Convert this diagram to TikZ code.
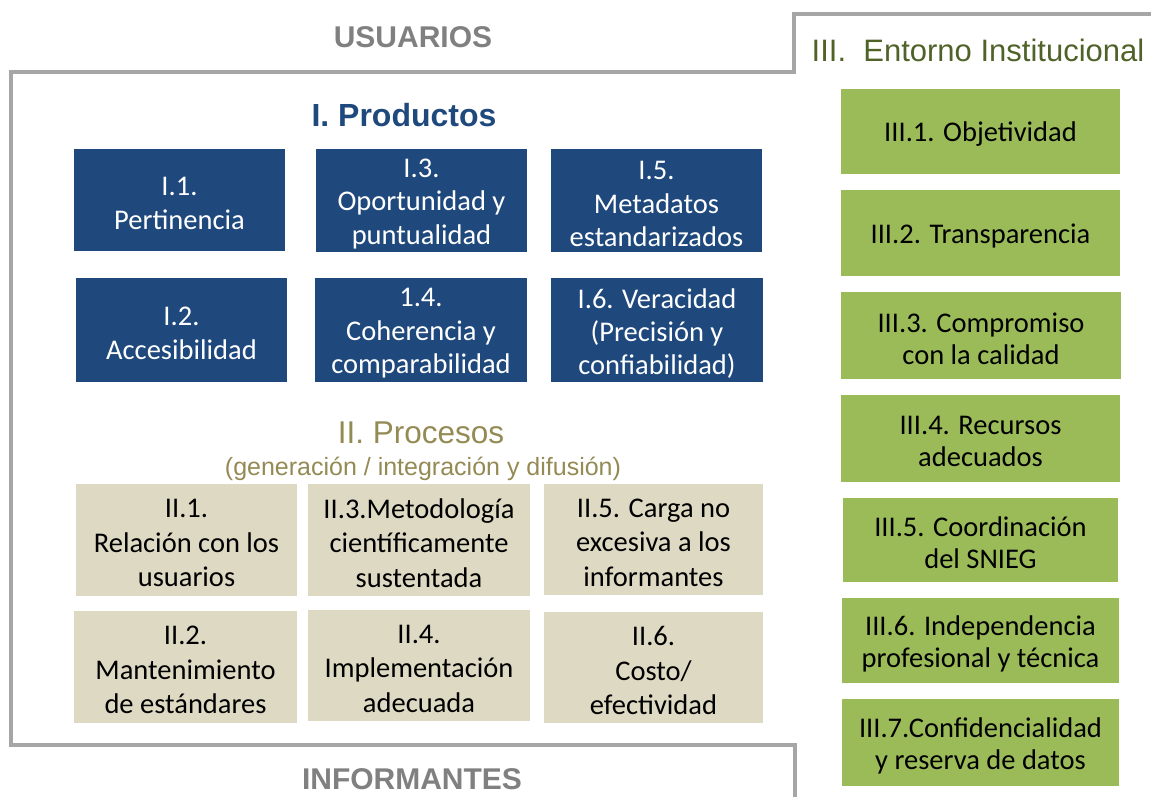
\documentclass[tikz,border=0pt]{standalone}
\usepackage{fontspec}
\setmainfont{Carlito}
\newfontfamily\arialf{Liberation Sans}
\definecolor{boxblue}{RGB}{31,73,125}
\definecolor{boxbeige}{RGB}{221,217,195}
\definecolor{boxgreen}{RGB}{155,187,89}
\definecolor{txtgreen}{RGB}{79,98,40}
\definecolor{txtolive}{RGB}{148,138,84}
\definecolor{txtgray}{RGB}{128,128,128}
\definecolor{linegray}{RGB}{166,166,166}
\tikzset{
  basebox/.style={inner sep=0pt, draw=none},
  bluebox/.style={basebox, fill=boxblue},
  beigebox/.style={basebox, fill=boxbeige},
  greenbox/.style={basebox, fill=boxgreen},
  basetxt/.style={inner sep=0pt, align=center},
  bluetxt/.style={basetxt, text=white, font=\fontsize{28.5}{33.4}\selectfont},
  beigetxt/.style={basetxt, text=black, font=\fontsize{28.5}{34.5}\selectfont},
  greentxt/.style={basetxt, text=black, font=\fontsize{28.5}{32}\selectfont},
  sz/.style 2 args={minimum width=#1, minimum height=#2},
  frameline/.style={draw=linegray, line width=4pt},
  grayhead/.style={anchor=base, text=txtgray, font=\arialf\bfseries\fontsize{30}{36}\selectfont, inner sep=0pt},
}
\begin{document}
\begin{tikzpicture}[x=1pt,y=-1pt]
\useasboundingbox (0,0) rectangle (1151,797);
% frame lines
\coordinate (ftr) at (1151,14.5);
\coordinate (fa) at (794,14.5);
\coordinate (fb) at (794,72);
\coordinate (fc) at (11,72);
\coordinate (fd) at (11,745);
\coordinate (fe) at (795,745);
\coordinate (fbr) at (795,797);
\draw[frameline] (ftr) -- (fa) -- (fb) -- (fc) -- (fd) -- (fe) -- (fbr);
% headings
\node[grayhead] (usu) at (413,48) {USUARIOS};
\node[grayhead] (inf) at (412,789) {INFORMANTES};
\node[anchor=base, inner sep=0pt, text=boxblue, font=\arialf\bfseries\fontsize{32}{38}\selectfont] (prod) at (404,127) {I. Productos};
\node[anchor=base, inner sep=0pt, text=txtgreen, font=\arialf\fontsize{31}{38}\selectfont] (ent) at (978,62) {III.\ \ Entorno Institucional};
\node[anchor=base, inner sep=0pt, text=txtolive, font=\arialf\fontsize{31.5}{38}\selectfont] (proc) at (421,443) {II. Procesos};
\node[anchor=base, inner sep=0pt, text=txtolive, font=\arialf\fontsize{25}{30}\selectfont] (procsub) at (423,475) {(generación / integración y difusión)};
% products
\node[bluebox, sz={211}{102}] (i1) at (179.5,200) {};
\node[bluetxt] (i1t) at ([yshift=-3.5pt]i1.center) {I.1.\\Pertinencia};
\node[bluebox, sz={211}{103}] (i3) at (421.5,200.5) {};
\node[bluetxt] (i3t) at ([yshift=-3.5pt]i3.center) {I.3.\\Oportunidad y\\puntualidad};
\node[bluebox, sz={211}{103}] (i5) at (656.5,200.5) {};
\node[bluetxt] (i5t) at ([yshift=-3.5pt]i5.center) {I.5.\\Metadatos\\estandarizados};
\node[bluebox, sz={211}{104}] (i2) at (181.5,330) {};
\node[bluetxt] (i2t) at ([yshift=-3.5pt]i2.center) {I.2.\\Accesibilidad};
\node[bluebox, sz={212}{104}] (i4) at (421,330) {};
\node[bluetxt] (i4t) at ([yshift=-3.5pt]i4.center) {1.4.\\Coherencia y\\comparabilidad};
\node[bluebox, sz={212}{104}] (i6) at (657,330) {};
\node[bluetxt] (i6t) at ([yshift=-3.5pt]i6.center) {I.6. Veracidad\\(Precisión y\\confiabilidad)};
% processes
\node[beigebox, sz={221}{112}] (ii1) at (186.5,540) {};
\node[beigetxt] (ii1t) at ([yshift=-3pt]ii1.center) {II.1.\\Relación con los\\usuarios};
\node[beigebox, sz={222}{112}] (ii3) at (419,540) {};
\node[beigetxt] (ii3t) at ([yshift=-3pt]ii3.center) {II.3.Metodología\\científicamente\\sustentada};
\node[beigebox, sz={219}{111}] (ii5) at (653.5,539.5) {};
\node[beigetxt] (ii5t) at ([yshift=-3pt]ii5.center) {II.5. Carga no\\excesiva a los\\informantes};
\node[beigebox, sz={223}{112}] (ii2) at (185.5,667) {};
\node[beigetxt] (ii2t) at ([yshift=-3pt]ii2.center) {II.2.\\Mantenimiento\\de estándares};
\node[beigebox, sz={222}{111}] (ii4) at (419,665.5) {};
\node[beigetxt] (ii4t) at ([yshift=-3pt]ii4.center) {II.4.\\Implementación\\adecuada};
\node[beigebox, sz={219}{111}] (ii6) at (653.5,667.5) {};
\node[beigetxt] (ii6t) at ([yshift=-3pt]ii6.center) {II.6.\\Costo/\\efectividad};
% institutional
\node[greenbox, sz={279}{85}] (iii1) at (980.5,131.5) {};
\node[greentxt] (iii1t) at ([yshift=-3pt]iii1.center) {III.1. Objetividad};
\node[greenbox, sz={279}{86}] (iii2) at (980.5,233) {};
\node[greentxt] (iii2t) at ([yshift=-3pt]iii2.center) {III.2. Transparencia};
\node[greenbox, sz={280}{87}] (iii3) at (981,335.5) {};
\node[greentxt] (iii3t) at ([yshift=-3pt]iii3.center) {III.3. Compromiso\\con la calidad};
\node[greenbox, sz={279}{87}] (iii4) at (980.5,438.5) {};
\node[greentxt] (iii4t) at ([yshift=-3pt]iii4.center) {III.4. Recursos\\adecuados};
\node[greenbox, sz={275}{84}] (iii5) at (980.5,540) {};
\node[greentxt] (iii5t) at ([yshift=-3pt]iii5.center) {III.5. Coordinación\\del SNIEG};
\node[greenbox, sz={277}{85}] (iii6) at (980.5,640.5) {};
\node[greentxt] (iii6t) at ([yshift=-3pt]iii6.center) {III.6. Independencia\\profesional y técnica};
\node[greenbox, sz={277}{87}] (iii7) at (980.5,742.5) {};
\node[greentxt] (iii7t) at ([yshift=-3pt]iii7.center) {III.7.Confidencialidad\\y reserva de datos};
\end{tikzpicture}
\end{document}
